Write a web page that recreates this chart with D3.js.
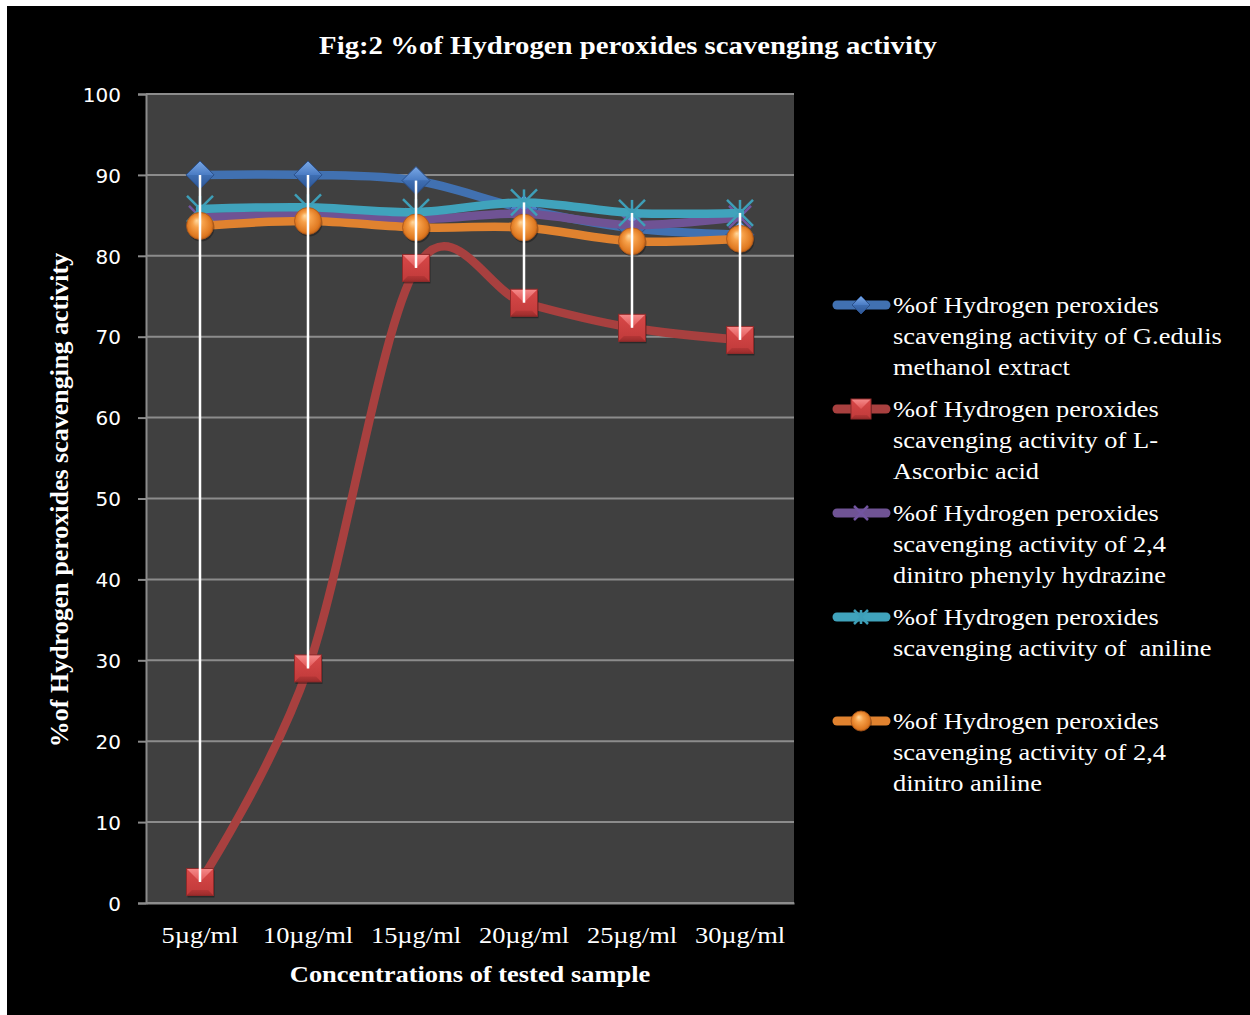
<!DOCTYPE html>
<html>
<head>
<meta charset="utf-8">
<script src="https://cdn.jsdelivr.net/npm/d3@7"></script>
<style>
  html, body { margin: 0; padding: 0; background: #ffffff; }
  svg { display: block; }
</style>
</head>
<body>
<svg id="chart" width="1250" height="1015"></svg>
<script>
// ---------- data ----------
const categories = ["5µg/ml", "10µg/ml", "15µg/ml", "20µg/ml", "25µg/ml", "30µg/ml"];
const gedulis  = [90.0, 90.0, 89.3, 85.8, 83.4, 82.6];
const ascorbic = [2.6, 29.0, 78.5, 74.2, 71.1, 69.6];
const dnph     = [84.8, 85.0, 84.5, 85.2, 83.8, 84.8];
const aniline  = [85.8, 86.0, 85.4, 86.6, 85.3, 85.3];
const dna      = [83.7, 84.3, 83.5, 83.5, 81.8, 82.1];
const yTicks   = [0, 10, 20, 30, 40, 50, 60, 70, 80, 90, 100];

const seriesNames = [
  ["%of Hydrogen peroxides", "scavenging activity of G.edulis", "methanol extract"],
  ["%of Hydrogen peroxides", "scavenging activity of L-", "Ascorbic acid"],
  ["%of Hydrogen peroxides", "scavenging activity of 2,4", "dinitro phenyly hydrazine"],
  ["%of Hydrogen peroxides", "scavenging activity of  aniline"],
  ["%of Hydrogen peroxides", "scavenging activity of 2,4", "dinitro aniline"]
];
const titleText = "Fig:2 %of Hydrogen peroxides scavenging activity";
const yTitle = "%of Hydrogen peroxides scavenging activity";
const xTitle = "Concentrations of tested sample";

// ---------- setup ----------
const svg = d3.select("#chart");
const SX = 1.15; // horizontal stretch of the original picture's text

svg.append("rect").attr("x", 7).attr("y", 6).attr("width", 1243).attr("height", 1009).attr("fill", "#000");

const plot = {left: 146, right: 794, top: 94, bottom: 903};
const x = d3.scaleBand().domain(categories).range([plot.left, plot.right]).padding(0);
const cx = c => x(c) + x.bandwidth() / 2;
const y = d3.scaleLinear().domain([0, 100]).range([plot.bottom, plot.top]);

const defs = svg.append("defs");
function linGrad(id, stops, x1, y1, x2, y2) {
  const g = defs.append("linearGradient").attr("id", id)
    .attr("x1", x1).attr("y1", y1).attr("x2", x2).attr("y2", y2);
  stops.forEach(s => g.append("stop").attr("offset", s[0]).attr("stop-color", s[1]));
}
function radGrad(id, stops, fx, fy) {
  const g = defs.append("radialGradient").attr("id", id)
    .attr("cx", "50%").attr("cy", "50%").attr("r", "55%").attr("fx", fx).attr("fy", fy);
  stops.forEach(s => g.append("stop").attr("offset", s[0]).attr("stop-color", s[1]));
}
linGrad("gDiaTop", [[0, "#7aa8e6"], [1, "#4a7cc4"]], 0, 0, 0, 1);
linGrad("gDiaBot", [[0, "#3f6fb3"], [1, "#2d5594"]], 0, 0, 0, 1);
linGrad("gSqTop", [[0, "#f58a8a"], [1, "#e05454"]], 0, 0, 0, 1);
linGrad("gSqMid", [[0, "#d84848"], [1, "#c03a3a"]], 0, 0, 0, 1);
linGrad("gSqBot", [[0, "#b53636"], [1, "#9a2c2c"]], 0, 0, 0, 1);
radGrad("gBall", [[0, "#ffd9a0"], [0.35, "#f7a14a"], [0.8, "#e07a22"], [1, "#b35a14"]], "38%", "30%");

// plot background
svg.append("rect").attr("x", plot.left).attr("y", plot.top)
  .attr("width", plot.right - plot.left).attr("height", plot.bottom - plot.top)
  .attr("fill", "#404040");

// gridlines
svg.append("g").selectAll("line").data(yTicks).join("line")
  .attr("x1", plot.left).attr("x2", plot.right)
  .attr("y1", d => y(d)).attr("y2", d => y(d))
  .attr("stroke", "#8c8c8c").attr("stroke-width", 2);

// y axis
const yAxis = svg.append("g").attr("transform", `translate(${plot.left},0)`)
  .call(d3.axisLeft(y).tickValues(yTicks).tickSize(8).tickPadding(17).tickFormat(d3.format("d")));
yAxis.select(".domain").attr("stroke", "#8c8c8c").attr("stroke-width", 2);
yAxis.selectAll(".tick line").attr("stroke", "#8c8c8c").attr("stroke-width", 2);
yAxis.selectAll(".tick text")
  .attr("fill", "#fff").attr("font-family", "DejaVu Sans").attr("font-size", 20)
  .attr("dy", "0.36em");

// x axis (labels only)
const xAxis = svg.append("g").attr("transform", `translate(0,${plot.bottom})`)
  .call(d3.axisBottom(x).tickSize(0).tickPadding(0));
xAxis.select(".domain").attr("stroke", "#8c8c8c").attr("stroke-width", 2);
xAxis.selectAll(".tick text")
  .attr("fill", "#fff").attr("font-family", "Liberation Serif").attr("font-size", 23)
  .attr("y", 0).attr("dy", 0)
  .attr("transform", `translate(0,40) scale(${SX},1)`);

// ---------- markers ----------
function drawMarker(g, type, px, py, s) {
  const h = s / 2;
  if (type === "diamond") {
    g.append("path").attr("d", `M${px - h},${py} L${px},${py - h} L${px + h},${py} Z`).attr("fill", "url(#gDiaTop)");
    g.append("path").attr("d", `M${px - h},${py} L${px},${py + h} L${px + h},${py} Z`).attr("fill", "url(#gDiaBot)");
    g.append("path").attr("d", `M${px - h},${py} L${px},${py - h} L${px + h},${py} L${px},${py + h} Z`)
      .attr("fill", "none").attr("stroke", "#2b5089").attr("stroke-width", 1);
  } else if (type === "square") {
    const b = s * 0.2;
    g.append("rect").attr("x", px - h + 1).attr("y", py - h + 2).attr("width", s).attr("height", s)
      .attr("fill", "#000").attr("opacity", 0.35);
    g.append("rect").attr("x", px - h).attr("y", py - h).attr("width", s).attr("height", s).attr("fill", "url(#gSqMid)");
    g.append("path").attr("d", `M${px - h},${py - h} L${px + h},${py - h} L${px},${py} Z`).attr("fill", "url(#gSqTop)");
    g.append("path").attr("d", `M${px - h},${py + h} L${px + h},${py + h} L${px + h - b},${py + h - b} L${px - h + b},${py + h - b} Z`).attr("fill", "url(#gSqBot)");
    g.append("rect").attr("x", px - h).attr("y", py - h).attr("width", s).attr("height", s)
      .attr("fill", "none").attr("stroke", "#8e2a2a").attr("stroke-width", 1);
  } else if (type === "ball") {
    g.append("ellipse").attr("cx", px + 1).attr("cy", py + 2).attr("rx", h).attr("ry", h).attr("fill", "#000").attr("opacity", 0.3);
    g.append("circle").attr("cx", px).attr("cy", py).attr("r", h).attr("fill", "url(#gBall)")
      .attr("stroke", "#a9561a").attr("stroke-width", 0.8);
  } else if (type === "star") {
    const c = "#3e9fb8";
    [[-h, -h, h, h], [-h, h, h, -h], [0, -h, 0, h]].forEach(l =>
      g.append("line").attr("x1", px + l[0]).attr("y1", py + l[1]).attr("x2", px + l[2]).attr("y2", py + l[3])
        .attr("stroke", c).attr("stroke-width", 2.5));
  } else if (type === "x") {
    const c = "#7255a0";
    [[-h, -h, h, h], [-h, h, h, -h]].forEach(l =>
      g.append("line").attr("x1", px + l[0]).attr("y1", py + l[1]).attr("x2", px + l[2]).attr("y2", py + l[3])
        .attr("stroke", c).attr("stroke-width", 2.5));
  }
}

const series = [
  {values: gedulis,  color: "#4171b1", marker: "diamond", size: 28},
  {values: ascorbic, color: "#a8403f", marker: "square",  size: 27},
  {values: dnph,     color: "#6f5394", marker: "x",       size: 22},
  {values: aniline,  color: "#40a3bc", marker: "star",    size: 26},
  {values: dna,      color: "#e0822f", marker: "ball",    size: 27}
];

const line = d3.line().x(d => cx(d.c)).y(d => y(d.v)).curve(d3.curveCardinal.tension(0));

const gSeries = svg.append("g");
series.forEach(s => {
  const pts = categories.map((c, i) => ({c, v: s.values[i]}));
  const g = gSeries.append("g");
  g.append("path").attr("d", line(pts)).attr("fill", "none")
    .attr("stroke", s.color).attr("stroke-width", 8.5).attr("stroke-linecap", "round").attr("stroke-linejoin", "round");
  pts.forEach(p => drawMarker(g, s.marker, cx(p.c), y(p.v), s.size));
});

// high-low lines
svg.append("g").selectAll("line").data(categories).join("line")
  .attr("x1", c => cx(c)).attr("x2", c => cx(c))
  .attr("y1", (c, i) => y(d3.max(series, s => s.values[i])))
  .attr("y2", (c, i) => y(d3.min(series, s => s.values[i])))
  .attr("stroke", "#ffffff").attr("stroke-width", 2.5);

// ---------- titles ----------
svg.append("text").attr("transform", `translate(628,54) scale(${SX},1)`)
  .attr("text-anchor", "middle").attr("fill", "#fff")
  .attr("font-family", "Liberation Serif").attr("font-weight", "bold").attr("font-size", 25)
  .text(titleText);

svg.append("text").attr("transform", `translate(68,500) rotate(-90)`)
  .attr("text-anchor", "middle").attr("fill", "#fff")
  .attr("font-family", "Liberation Serif").attr("font-weight", "bold").attr("font-size", 26)
  .text(yTitle);

svg.append("text").attr("transform", `translate(470,982) scale(${SX},1)`)
  .attr("text-anchor", "middle").attr("fill", "#fff")
  .attr("font-family", "Liberation Serif").attr("font-weight", "bold").attr("font-size", 23)
  .text(xTitle);

// ---------- legend ----------
const legend = svg.append("g");
series.forEach((s, i) => {
  const top = 305 + i * 104;
  const g = legend.append("g");
  g.append("line").attr("x1", 837).attr("x2", 886).attr("y1", top).attr("y2", top)
    .attr("stroke", s.color).attr("stroke-width", 9).attr("stroke-linecap", "round");
  drawMarker(g, s.marker, 861, top, s.marker === "diamond" ? 18 : (s.marker === "x" || s.marker === "star") ? 14 : 20);
  seriesNames[i].forEach((t, j) => {
    g.append("text").attr("transform", `translate(893,${top + 8 + j * 31}) scale(${SX},1)`)
      .attr("fill", "#fff").attr("font-family", "Liberation Serif").attr("font-size", 23)
      .attr("xml:space", "preserve").style("white-space", "pre")
      .text(t);
  });
});
</script>
</body>
</html>
